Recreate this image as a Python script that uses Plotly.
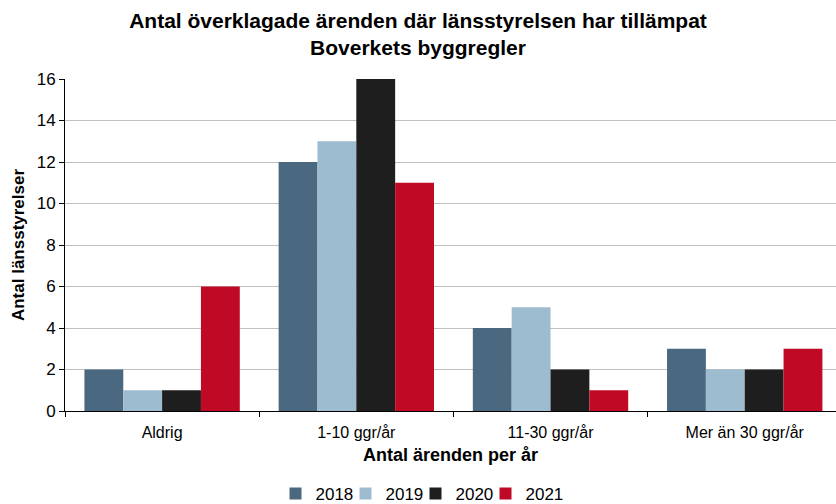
import plotly.graph_objects as go

categories = ["Aldrig", "1-10 ggr/år", "11-30 ggr/år", "Mer än 30 ggr/år"]
years = ["2018", "2019", "2020", "2021"]
v2018 = [2, 12, 4, 3]
v2019 = [1, 13, 5, 2]
v2020 = [1, 16, 2, 2]
v2021 = [6, 11, 1, 3]
series = [v2018, v2019, v2020, v2021]
colors = ["#4A6880", "#9DBCD0", "#1E1E1E", "#C00A25"]
legend_ids = ["legend", "legend2", "legend3", "legend4"]

fig = go.Figure()
for y, vals, c, lg in zip(years, series, colors, legend_ids):
    fig.add_trace(go.Bar(name=y, x=categories, y=vals, legend=lg,
                         marker=dict(color=c, line=dict(width=0))))

font = "Liberation Sans, Arial, sans-serif"
legend_layout = {}
for k, lg in enumerate(legend_ids):
    legend_layout[lg] = dict(orientation="h", x=(275.5 + 70 * k - 65) / 771, xanchor="left",
                             y=-0.25, yanchor="middle", yref="paper",
                             font=dict(size=17), itemwidth=30, bgcolor="rgba(0,0,0,0)")

fig.update_layout(
    width=836, height=504,
    margin=dict(l=65, r=0, t=79, b=93, autoexpand=False),
    paper_bgcolor="white", plot_bgcolor="white",
    barmode="group", bargap=0.2, bargroupgap=0,
    font=dict(family=font, size=17, color="black"),
    title=dict(text="<b>Antal överklagade ärenden där länsstyrelsen har tillämpat<br>Boverkets byggregler</b>",
               x=0.5, xanchor="center", xref="container", y=1 - 28 / 504, yanchor="middle", yref="container",
               font=dict(size=21, family=font, color="black")),
    showlegend=True,
    **legend_layout,
)
fig.update_xaxes(
    range=[-0.5, 3.47], showline=True, linecolor="black", linewidth=1,
    ticks="outside", tickson="boundaries", ticklen=5, tickcolor="black",
    tickfont=dict(size=16), automargin=False, ticklabelstandoff=7,
    title=dict(text="<b>Antal ärenden per år</b>", font=dict(size=18), standoff=8),
)
fig.update_yaxes(
    range=[0, 16], dtick=2, showline=True, linecolor="black", linewidth=1,
    ticks="outside", ticklen=5, tickcolor="black",
    showgrid=True, gridcolor="#C0C0C0", gridwidth=1,
    tickfont=dict(size=17), automargin=False,
    title=dict(text="<b>Antal länsstyrelser</b>", font=dict(size=17), standoff=7),
)
fig.write_html("out.html", config={"displayModeBar": False},
               post_script="document.body.style.margin='0px';")
